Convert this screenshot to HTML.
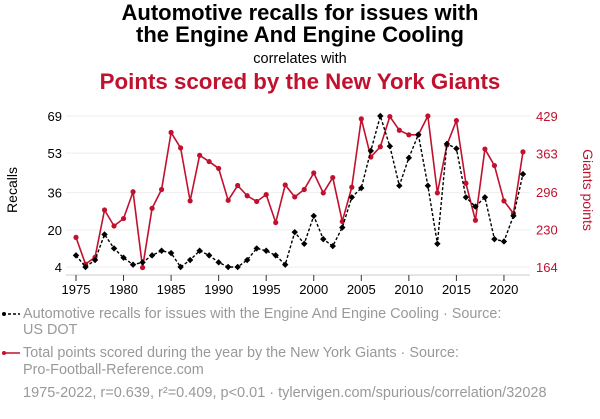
<!DOCTYPE html>
<html><head><meta charset="utf-8"><style>
body{margin:0;background:#fff;width:600px;height:414px;overflow:hidden;font-family:"Liberation Sans",sans-serif}
</style></head><body>
<svg id="c" width="600" height="414" xmlns="http://www.w3.org/2000/svg" font-family="Liberation Sans, sans-serif">
<text x="300" y="20" text-anchor="middle" font-size="22" font-weight="bold" fill="#000">Automotive recalls for issues with</text>
<text x="300" y="42" text-anchor="middle" font-size="22" font-weight="bold" fill="#000">the Engine And Engine Cooling</text>
<text x="300" y="63" text-anchor="middle" font-size="14.5" fill="#000">correlates with</text>
<text x="300" y="89" text-anchor="middle" font-size="22.3" font-weight="bold" fill="#c0112f">Points scored by the New York Giants</text>
<text transform="translate(17,190) rotate(-90)" text-anchor="middle" font-size="14" fill="#000">Recalls</text>
<text transform="translate(583,190) rotate(90)" text-anchor="middle" font-size="14" fill="#c0112f">Giants points</text>
<g id="grid"></g><g id="axes"></g><g id="marks"></g>
<g font-size="14.4" fill="#999">
<line x1="3" y1="314" x2="20" y2="314" stroke="#000" stroke-dasharray="3,2" stroke-width="1.5"/>
<circle cx="4" cy="314" r="2" fill="#000"/>
<text x="23" y="318">Automotive recalls for issues with the Engine And Engine Cooling · Source:</text>
<text x="23" y="334">US DOT</text>
<line x1="3" y1="353" x2="20" y2="353" stroke="#c0112f" stroke-width="1.5"/>
<circle cx="4" cy="353" r="2" fill="#c0112f"/>
<text x="23" y="357">Total points scored during the year by the New York Giants · Source:</text>
<text x="23" y="374">Pro-Football-Reference.com</text>
<text x="23" y="397" font-size="14.5">1975-2022, r=0.639, r²=0.409, p&lt;0.01 · tylervigen.com/spurious/correlation/32028</text>
</g>
</svg>
<script>
const years=[];for(let y=1975;y<=2022;y++)years.push(y);
const recalls=[9,4,7,18,12,8,5,6,9,11,10,4,7,11,9,6,4,4,7,12,11,9,5,19,14,26,16,13,21,34,38,54,69,56,39,51,61,39,14,57,55,34,30,34,16,15,26,44];
const giants=[216,169,181,264,236,249,296,163,267,300,400,373,280,360,349,337,281,307,289,279,291,242,308,287,300,329,294,321,244,304,424,357,375,428,404,396,396,429,294,378,421,311,246,371,342,280,258,366];
const leftTicks=[4,20,36,53,69];
const rightTicks=[164,230,296,363,429];
const xTicks=[1975,1980,1985,1990,1995,2000,2005,2010,2015,2020];
const NS="http://www.w3.org/2000/svg";
const X=y=>76+(y-1975)*9.51;
const YL=v=>267-(v-4)*151/65;
const YR=v=>267-(v-164)*151/265;
function mk(t,a,p){const e=document.createElementNS(NS,t);for(const k in a)e.setAttribute(k,a[k]);document.getElementById(p).appendChild(e);return e;}
leftTicks.forEach((v,i)=>{
 const g=mk('line',{x1:66,x2:530,y1:YL(v),y2:YL(v),stroke:'#eee','stroke-width':1},'grid');
 
 
 const t=mk('text',{x:62,y:YL(v)+5,'text-anchor':'end','font-size':13,fill:'#000'},'axes');t.textContent=v;
 
 
});
rightTicks.forEach(v=>{
 const t=mk('text',{x:536,y:YR(v)+5,'font-size':13,fill:'#c0112f'},'axes');t.textContent=v;
 
 
});
const ax=mk('line',{x1:66,x2:530,y1:275,y2:275,stroke:'#ccc'},'axes');


xTicks.forEach(y=>{
 const l=mk('line',{x1:X(y),x2:X(y),y1:275,y2:281,stroke:'#333'},'axes');
 
 
 const t=mk('text',{x:X(y),y:294,'text-anchor':'middle','font-size':13,fill:'#000'},'axes');t.textContent=y;
 
 
});
const rp=mk('polyline',{points:years.map((y,i)=>X(y)+','+YR(giants[i])).join(' '),fill:'none',stroke:'#c0112f','stroke-width':1.6},'marks');


years.forEach((y,i)=>{const c=mk('circle',{cx:X(y),cy:YR(giants[i]),r:2.6,fill:'#c0112f'},'marks');
 
 });
const bp=mk('polyline',{points:years.map((y,i)=>X(y)+','+YL(recalls[i])).join(' '),fill:'none',stroke:'#000','stroke-width':1.4,'stroke-dasharray':'3,2'},'marks');


years.forEach((y,i)=>{const cx=X(y),cy=YL(recalls[i]);const d=mk('polygon',{points:`${cx},${cy-3.2} ${cx+3.2},${cy} ${cx},${cy+3.2} ${cx-3.2},${cy}`,fill:'#000'},'marks');
 
 });
</script>
</body></html>
